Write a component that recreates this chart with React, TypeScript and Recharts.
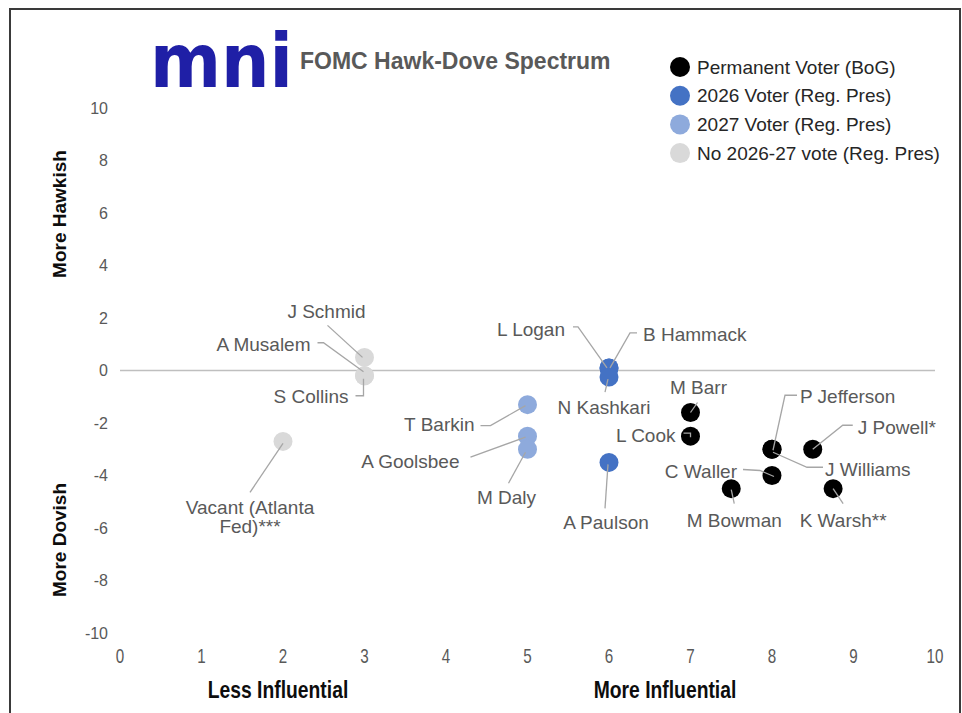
import React from 'react';
import { ScatterChart, Scatter, XAxis, YAxis, ReferenceLine } from 'recharts';

// Permanent voters (Board of Governors + NY Fed)
const permanentNames = ['M Barr', 'L Cook', 'P Jefferson', 'J Williams', 'C Waller', 'M Bowman', 'J Powell*', 'K Warsh**'];
const permanentX = [7, 7, 8, 8, 8, 7.5, 8.5, 8.75];
const permanentY = [-1.6, -2.5, -3, -3, -4, -4.5, -3, -4.5];

// 2026 rotating voters
const voter2026Names = ['L Logan', 'B Hammack', 'N Kashkari', 'A Paulson'];
const voter2026X = [6, 6, 6, 6];
const voter2026Y = [0.1, 0.1, -0.25, -3.5];

// 2027 rotating voters
const voter2027Names = ['T Barkin', 'A Goolsbee', 'M Daly'];
const voter2027X = [5, 5, 5];
const voter2027Y = [-1.3, -2.5, -3];

// no vote in 2026-27
const noVoteNames = ['J Schmid', 'A Musalem', 'S Collins', 'Vacant (Atlanta Fed)***'];
const noVoteX = [3, 3, 3, 2];
const noVoteY = [0.5, -0.2, -0.2, -2.7];

const xTicks = [0, 1, 2, 3, 4, 5, 6, 7, 8, 9, 10];
const yTicks = [-10, -8, -6, -4, -2, 0, 2, 4, 6, 8, 10];

const SANS = "'Liberation Sans', Arial, sans-serif";

const toPoints = (names: string[], xs: number[], ys: number[]) =>
    names.map((name, i) => ({ name, x: xs[i], y: ys[i] }));

const series = [
    { name: 'Permanent Voter (BoG)', color: '#000000', data: toPoints(permanentNames, permanentX, permanentY) },
    { name: '2026 Voter (Reg. Pres)', color: '#4472c4', data: toPoints(voter2026Names, voter2026X, voter2026Y) },
    { name: '2027 Voter (Reg. Pres)', color: '#8eaadc', data: toPoints(voter2027Names, voter2027X, voter2027Y) },
    { name: 'No 2026-27 vote (Reg. Pres)', color: '#d9d9d9', data: toPoints(noVoteNames, noVoteX, noVoteY) },
];

// label placement relative to each point (px): text anchor position + leader line
type LabelCfg = { dx: number; dy: number; anchor: 'start' | 'middle' | 'end'; path: number[][]; lines?: string[] };
const labelLayout: Record<string, LabelCfg> = {
    'J Schmid': { dx: -38, dy: -46, anchor: 'middle', path: [[-37, -32], [-2, 0]] },
    'A Musalem': { dx: -54, dy: -31, anchor: 'end', path: [[-47, -33], [-41, -33], [-1, -4]] },
    'S Collins': { dx: -16, dy: 21, anchor: 'end', path: [[-9, 20], [-1, 20], [-1, 3]] },
    'Vacant (Atlanta Fed)***': { dx: -33, dy: 66, anchor: 'middle', path: [[-33, 51], [0, 2]], lines: ['Vacant (Atlanta', 'Fed)***'] },
    'L Logan': { dx: -44, dy: -39, anchor: 'end', path: [[-36, -41], [-31, -41], [-2, 0]] },
    'B Hammack': { dx: 34, dy: -34, anchor: 'start', path: [[28, -35], [21, -35], [1, 0]] },
    'N Kashkari': { dx: -5, dy: 30, anchor: 'middle', path: [[-4, 15], [-1, 2]] },
    'A Paulson': { dx: -3, dy: 60, anchor: 'middle', path: [[-4, 46], [-1, 2]] },
    'T Barkin': { dx: -53, dy: 20, anchor: 'end', path: [[-47, 21], [-37, 21], [-2, 1]] },
    'A Goolsbee': { dx: -68, dy: 25, anchor: 'end', path: [[-57, 21], [-2, 1]] },
    'M Daly': { dx: -21, dy: 48, anchor: 'middle', path: [[-19, 34], [-2, 3]] },
    'M Barr': { dx: 8, dy: -25, anchor: 'middle', path: [[7, -10], [0, 0]] },
    'L Cook': { dx: -15, dy: -1, anchor: 'end', path: [[-7, -3], [0, -3], [0, 1]] },
    'C Waller': { dx: -35, dy: -4, anchor: 'end', path: [[-29, -6], [-12, -5], [2, 1]] },
    'M Bowman': { dx: 3, dy: 32, anchor: 'middle', path: [[3, 15], [0, 1]] },
    'P Jefferson': { dx: 28, dy: -53, anchor: 'start', path: [[25, -54], [13, -54], [1, 1]] },
    'J Williams': { dx: 53, dy: 20, anchor: 'start', path: [[51, 18], [35, 18], [1, 3]] },
    'J Powell*': { dx: 45, dy: -22, anchor: 'start', path: [[40, -24], [30, -24], [0, 0]] },
    'K Warsh**': { dx: 10, dy: 32, anchor: 'middle', path: [[10, 15], [0, 0]] },
};

const allPoints = series.flatMap(s => s.data);

const Dot = (color: string) => (p: any) => <circle cx={p.cx} cy={p.cy} r={9.5} fill={color} />;

const LabelMark = (p: any) => {
    const cfg = labelLayout[p.payload?.name];
    if (!cfg || p.cx == null) return <g />;
    const pts = cfg.path.map(([a, b]) => `${p.cx + a},${p.cy + b}`).join(' ');
    const lines = cfg.lines ?? [p.payload.name];
    const tx = p.cx + cfg.dx;
    return (
        <g>
            <polyline points={pts} fill="none" stroke="#a6a6a6" strokeWidth={1.3} />
            <text x={tx} y={p.cy + cfg.dy} textAnchor={cfg.anchor} fontSize={19} fill="#595959" fontFamily={SANS}>
                {lines.map((l, i) => (
                    <tspan key={i} x={tx} dy={i === 0 ? '0.35em' : 19}>{l}</tspan>
                ))}
            </text>
        </g>
    );
};

// condensed x tick labels (no narrow font installed, so squeeze horizontally)
const NarrowTick = (p: any) => (
    <text transform={`translate(${p.x},${p.y - 1}) scale(0.76,1)`} textAnchor="middle" dy="0.71em"
        fontFamily={SANS} fontSize={20} fill="#595959">{p.payload.value}</text>
);

export default function App() {
    return (
        <div style={{ position: 'absolute', left: 0, top: 0, width: 962, height: 713, background: '#fff', overflow: 'hidden' }}>
            <div style={{ position: 'absolute', left: 9, top: 8, width: 952, height: 720, border: '2px solid #3a3a3a', boxSizing: 'border-box' }} />
            <div style={{ position: 'absolute', left: 0, top: 0 }}>
                <ScatterChart width={962} height={713} margin={{ top: 108, right: 27, bottom: 50, left: 60 }}>
                    <XAxis type="number" dataKey="x" domain={[0, 10]} ticks={xTicks} axisLine={false} tickLine={false}
                        tickSize={15} height={30} tick={NarrowTick} />
                    <YAxis type="number" dataKey="y" domain={[-10, 10]} ticks={yTicks} axisLine={false} tickLine={false}
                        tickSize={10} width={60} tick={{ fill: '#595959', fontSize: 16, fontFamily: SANS }} />
                    <ReferenceLine y={0} stroke="#bfbfbf" strokeWidth={1.5} />
                    {series.slice().reverse().map(s => (
                        <Scatter key={s.name} name={s.name} data={s.data} fill={s.color} shape={Dot(s.color)} isAnimationActive={false} />
                    ))}
                    <Scatter name="labels" data={allPoints} shape={LabelMark} legendType="none" isAnimationActive={false} />
                </ScatterChart>
            </div>
            <svg width={962} height={713} style={{ position: 'absolute', left: 0, top: 0, pointerEvents: 'none' }}>
                {/* logo + title */}
                <text x={150} y={87} fontFamily="'DejaVu Sans', sans-serif" fontWeight={700} fontSize={74} fill="#1f1fa6"
                    textLength={143} lengthAdjust="spacingAndGlyphs">mni</text>
                <text x={300} y={69} fontFamily={SANS} fontWeight={700} fontSize={23} fill="#595959">FOMC Hawk-Dove Spectrum</text>

                {/* legend */}
                {series.map((s, i) => (
                    <g key={s.name}>
                        <circle cx={680} cy={67 + i * 28.7} r={10} fill={s.color} />
                        <text x={697} y={67 + i * 28.7} dy="0.35em" fontFamily={SANS} fontSize={19} fill="#262626">{s.name}</text>
                    </g>
                ))}

                {/* axis titles */}
                <text transform="translate(66,214) rotate(-90)" textAnchor="middle" fontFamily={SANS} fontWeight={700} fontSize={19} fill="#0d0d0d">More Hawkish</text>
                <text transform="translate(66,540) rotate(-90)" textAnchor="middle" fontFamily={SANS} fontWeight={700} fontSize={19} fill="#0d0d0d">More Dovish</text>
                <text transform="translate(278,698) scale(0.84,1)" textAnchor="middle" fontFamily={SANS} fontWeight={700} fontSize={23} fill="#0d0d0d">Less Influential</text>
                <text transform="translate(665,698) scale(0.84,1)" textAnchor="middle" fontFamily={SANS} fontWeight={700} fontSize={23} fill="#0d0d0d">More Influential</text>
            </svg>
        </div>
    );
}
